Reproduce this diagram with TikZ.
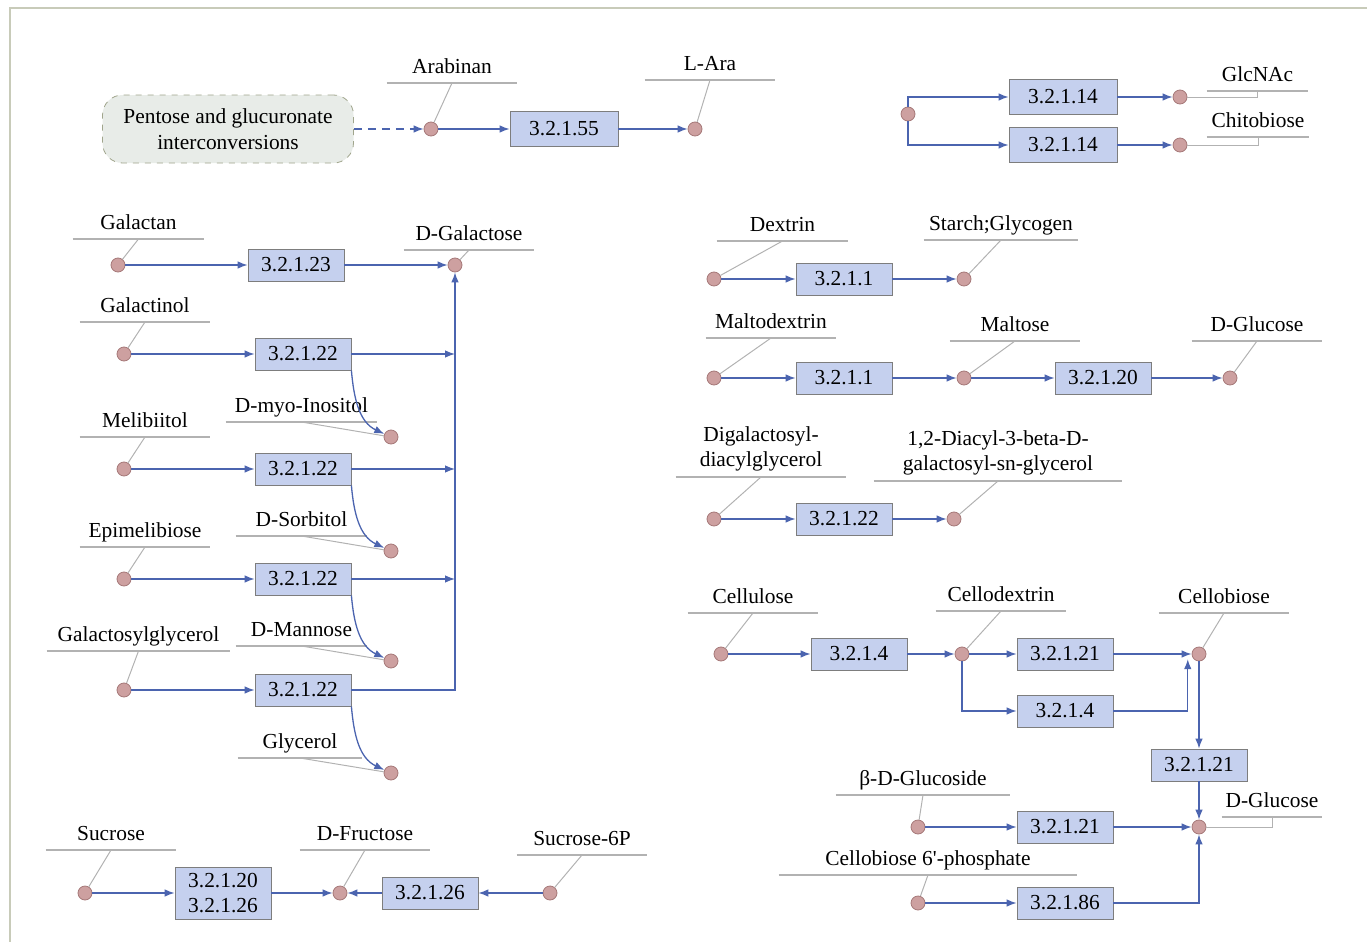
\documentclass[tikz,border=0pt]{standalone}
\usepackage{fontspec}
\setmainfont{Liberation Serif}
\usetikzlibrary{arrows.meta,positioning}

\definecolor{arrblue}{RGB}{75,100,175}
\definecolor{enzfill}{RGB}{197,208,238}
\definecolor{enzdraw}{RGB}{125,125,125}
\definecolor{metfill}{RGB}{205,160,160}
\definecolor{metdraw}{RGB}{165,120,120}
\definecolor{lblgray}{RGB}{178,178,178}
\definecolor{pbfill}{RGB}{232,236,232}
\definecolor{pbdraw}{RGB}{160,165,140}
\definecolor{framec}{RGB}{200,203,185}
\newcommand{\lblfont}{\fontsize{10.7}{12.8}\selectfont}

\begin{document}
\begin{tikzpicture}[
  x=0.5pt, y=-0.5pt,
  met/.style={circle,draw=metdraw,fill=metfill,minimum size=7pt,inner sep=0pt},
  enz/.style={draw=enzdraw,fill=enzfill,font=\lblfont,minimum width=48pt,minimum height=16pt,inner sep=1pt},
  bigenz/.style={enz,minimum width=54pt,minimum height=17.5pt},
  uline/.style={draw=lblgray,line width=0.6pt},
  lbl/.style={font=\lblfont,inner xsep=0pt,inner ysep=2.5pt,anchor=south,text depth=2.2pt,minimum width=#1,
    append after command={(\tikzlastnode.south west) edge[uline] (\tikzlastnode.south east)}},
  lbll/.style={font=\lblfont,inner xsep=0pt,inner ysep=2.5pt,anchor=south,align=center,minimum width=#1,
    append after command={(\tikzlastnode.south west) edge[uline] (\tikzlastnode.south east)}},
  ptr/.style={draw=lblgray,line width=0.5pt},
  arr/.style={draw=arrblue,line width=0.65pt,-{Latex[length=5pt,width=3.8pt]}},
  pathway/.style={draw=pbdraw,dashed,fill=pbfill,rounded corners=10pt,font=\lblfont,align=center,
    minimum width=125.5pt,minimum height=34pt}
]
\useasboundingbox (0,0) rectangle (1367,942);
\draw[framec,line width=0.8pt] (10,942) -- (10,8) -- (1367,8);

% pentose link
\node[pathway] (pent) at (228,129) {Pentose and glucuronate\\interconversions};
\node[met] (arab) at (431,129) {};
\node[bigenz] (e55) at (564,129) {3.2.1.55};
\node[met] (lara) at (695,129) {};
\node[lbl=65pt] (arabL) at (452,83) {Arabinan};
\node[lbl=65pt] (laraL) at (710,80) {L-Ara};
\draw[arr,dash pattern=on 4pt off 3pt] (pent) -- (arab);
\draw[arr] (arab) -- (e55);
\draw[arr] (e55) -- (lara);
\draw[ptr] (arabL.south) -- (arab);
\draw[ptr] (laraL.south) -- (lara);

% chitin
\node[met] (chit) at (908,114) {};
\node[bigenz] (c14a) at (1063,97) {3.2.1.14};
\node[bigenz] (c14b) at (1063,145) {3.2.1.14};
\node[met] (glcnac) at (1180,97) {};
\node[met] (chitob) at (1180,145) {};
\node[lbl=50.5pt] (glcnacL) at (1257.5,91) {GlcNAc};
\node[lbl=51pt] (chitobL) at (1258,137) {Chitobiose};
\draw[arr] (chit) |- (c14a.west);
\draw[arr] (chit) |- (c14b.west);
\draw[arr] (c14a) -- (glcnac);
\draw[arr] (c14b) -- (chitob);
\draw[ptr] (glcnac) -| (glcnacL.south);
\draw[ptr] (chitob) -| (chitobL.south);

% galactose branch
\node[met] (galn) at (118,265) {};
\node[enz] (g23) at (296,265) {3.2.1.23};
\node[met] (dgal) at (455,265) {};
\node[lbl=65.5pt] (galnL) at (138.5,239) {Galactan};
\node[lbl=65pt] (dgalL) at (469,250) {D-Galactose};
\draw[arr] (galn) -- (g23);
\draw[arr] (g23) -- (dgal);
\draw[ptr] (galnL.south) -- (galn);
\draw[ptr] (dgalL.south) -- (dgal);

\node[met] (galnol) at (124,354) {};
\node[enz] (g22a) at (303,354) {3.2.1.22};
\node[met] (ino) at (391,437) {};
\node[lbl=65pt] (galnolL) at (145,322) {Galactinol};
\node[lbl=75.5pt] (inoL) at (301.5,422) {D-myo-Inositol};

\node[met] (melib) at (124,469) {};
\node[enz] (g22b) at (303,469) {3.2.1.22};
\node[met] (sorb) at (391,551) {};
\node[lbl=65pt] (melibL) at (145,437) {Melibiitol};
\node[lbl=65.5pt] (sorbL) at (301.5,536) {D-Sorbitol};

\node[met] (epim) at (124,579) {};
\node[enz] (g22c) at (303,579) {3.2.1.22};
\node[met] (mann) at (391,661) {};
\node[lbl=65pt] (epimL) at (145,547) {Epimelibiose};
\node[lbl=65.5pt] (mannL) at (301.5,646) {D-Mannose};

\node[met] (ggly) at (124,690) {};
\node[enz] (g22d) at (303,690) {3.2.1.22};
\node[met] (glyc) at (391,773) {};
\node[lbl=91.5pt] (gglyL) at (138.5,651) {Galactosylglycerol};
\node[lbl=62pt] (glycL) at (300,758) {Glycerol};

\draw[arr] (galnol) -- (g22a);
\draw[arr] (melib) -- (g22b);
\draw[arr] (epim) -- (g22c);
\draw[arr] (ggly) -- (g22d);
\draw[arr] (g22a.east) -- (g22a.east -| dgal);
\draw[arr] (g22b.east) -- (g22b.east -| dgal);
\draw[arr] (g22c.east) -- (g22c.east -| dgal);
\draw[arr] (g22d.east) -| (dgal);
\draw[arr] (g22a.south east) to[out=-85,in=155] (ino);
\draw[arr] (g22b.south east) to[out=-85,in=155] (sorb);
\draw[arr] (g22c.south east) to[out=-85,in=155] (mann);
\draw[arr] (g22d.south east) to[out=-85,in=155] (glyc);
\draw[ptr] (galnolL.south) -- (galnol);
\draw[ptr] (melibL.south) -- (melib);
\draw[ptr] (epimL.south) -- (epim);
\draw[ptr] (gglyL.south) -- (ggly);
\draw[ptr] (inoL.south) -- (ino);
\draw[ptr] (sorbL.south) -- (sorb);
\draw[ptr] (mannL.south) -- (mann);
\draw[ptr] (glycL.south) -- (glyc);

% sucrose
\node[met] (suc) at (85,893) {};
\node[enz,minimum height=26pt,align=center] (s1) at (223,893) {3.2.1.20\\3.2.1.26};
\node[met] (fru) at (340,893) {};
\node[enz] (s2) at (430,893) {3.2.1.26};
\node[met] (suc6p) at (550,893) {};
\node[lbl=65pt] (sucL) at (111,850) {Sucrose};
\node[lbl=65pt] (fruL) at (365,850) {D-Fructose};
\node[lbl=65pt] (suc6pL) at (582,855) {Sucrose-6P};
\draw[arr] (suc) -- (s1);
\draw[arr] (s1) -- (fru);
\draw[arr] (s2) -- (fru);
\draw[arr] (suc6p) -- (s2);
\draw[ptr] (sucL.south) -- (suc);
\draw[ptr] (fruL.south) -- (fru);
\draw[ptr] (suc6pL.south) -- (suc6p);

% starch
\node[met] (dext) at (714,279) {};
\node[enz] (d1) at (844,279) {3.2.1.1};
\node[met] (starch) at (964,279) {};
\node[lbl=65.5pt] (dextL) at (782.5,241) {Dextrin};
\node[lbl=77pt] (starchL) at (1001,240) {Starch;Glycogen};
\draw[arr] (dext) -- (d1);
\draw[arr] (d1) -- (starch);
\draw[ptr] (dextL.south) -- (dext);
\draw[ptr] (starchL.south) -- (starch);

\node[met] (mdex) at (714,378) {};
\node[enz] (d2) at (844,378) {3.2.1.1};
\node[met] (malt) at (964,378) {};
\node[enz] (m20) at (1103,378) {3.2.1.20};
\node[met] (glc1) at (1230,378) {};
\node[lbl=65pt] (mdexL) at (771,338) {Maltodextrin};
\node[lbl=65pt] (maltL) at (1015,341) {Maltose};
\node[lbl=65pt] (glc1L) at (1257,341) {D-Glucose};
\draw[arr] (mdex) -- (d2);
\draw[arr] (d2) -- (malt);
\draw[arr] (malt) -- (m20);
\draw[arr] (m20) -- (glc1);
\draw[ptr] (mdexL.south) -- (mdex);
\draw[ptr] (maltL.south) -- (malt);
\draw[ptr] (glc1L.south) -- (glc1);

% galactolipid
\node[met] (dgdg) at (714,519) {};
\node[enz] (dg22) at (844,519) {3.2.1.22};
\node[met] (mgdg) at (954,519) {};
\node[lbll=85pt] (dgdgL) at (761,477) {Digalactosyl-\\diacylglycerol};
\node[lbll=124pt] (mgdgL) at (998,481) {1,2-Diacyl-3-beta-D-\\galactosyl-sn-glycerol};
\draw[arr] (dgdg) -- (dg22);
\draw[arr] (dg22) -- (mgdg);
\draw[ptr] (dgdgL.south) -- (dgdg);
\draw[ptr] (mgdgL.south) -- (mgdg);

% cellulose
\node[met] (cell) at (721,654) {};
\node[enz] (cl4) at (859,654) {3.2.1.4};
\node[met] (cdex) at (962,654) {};
\node[enz] (cd21) at (1065,654) {3.2.1.21};
\node[enz] (cd4) at (1065,711) {3.2.1.4};
\node[met] (cbio) at (1199,654) {};
\node[enz] (cb21) at (1199,765) {3.2.1.21};
\node[met] (dglc2) at (1199,827) {};
\node[met] (bglc) at (918,827) {};
\node[enz] (bg21) at (1065,827) {3.2.1.21};
\node[met] (cb6p) at (918,903) {};
\node[enz] (cp86) at (1065,903) {3.2.1.86};
\node[lbl=65pt] (cellL) at (753,613) {Cellulose};
\node[lbl=65pt] (cdexL) at (1001,611) {Cellodextrin};
\node[lbl=65pt] (cbioL) at (1224,613) {Cellobiose};
\node[lbl=50pt] (dglc2L) at (1272,817) {D-Glucose};
\node[lbl=87pt] (bglcL) at (923,795) {β-D-Glucoside};
\node[lbl=149pt] (cb6pL) at (928,875) {Cellobiose 6\textquotesingle-phosphate};
\draw[arr] (cell) -- (cl4);
\draw[arr] (cl4) -- (cdex);
\draw[arr] (cdex) -- (cd21);
\draw[arr] (cdex) |- (cd4.west);
\draw[arr] (cd21) -- (cbio);
\draw[arr] (cd4.east) -| ([xshift=-3pt]cbio.south west);
\draw[arr] (cbio) -- (cb21);
\draw[arr] (cb21) -- (dglc2);
\draw[arr] (bglc) -- (bg21);
\draw[arr] (bg21) -- (dglc2);
\draw[arr] (cb6p) -- (cp86);
\draw[arr] (cp86.east) -| (dglc2);
\draw[ptr] (cellL.south) -- (cell);
\draw[ptr] (cdexL.south) -- (cdex);
\draw[ptr] (cbioL.south) -- (cbio);
\draw[ptr] (bglcL.south) -- (bglc);
\draw[ptr] (cb6pL.south) -- (cb6p);
\draw[ptr] (dglc2) -| (dglc2L.south);
\end{tikzpicture}
\end{document}
